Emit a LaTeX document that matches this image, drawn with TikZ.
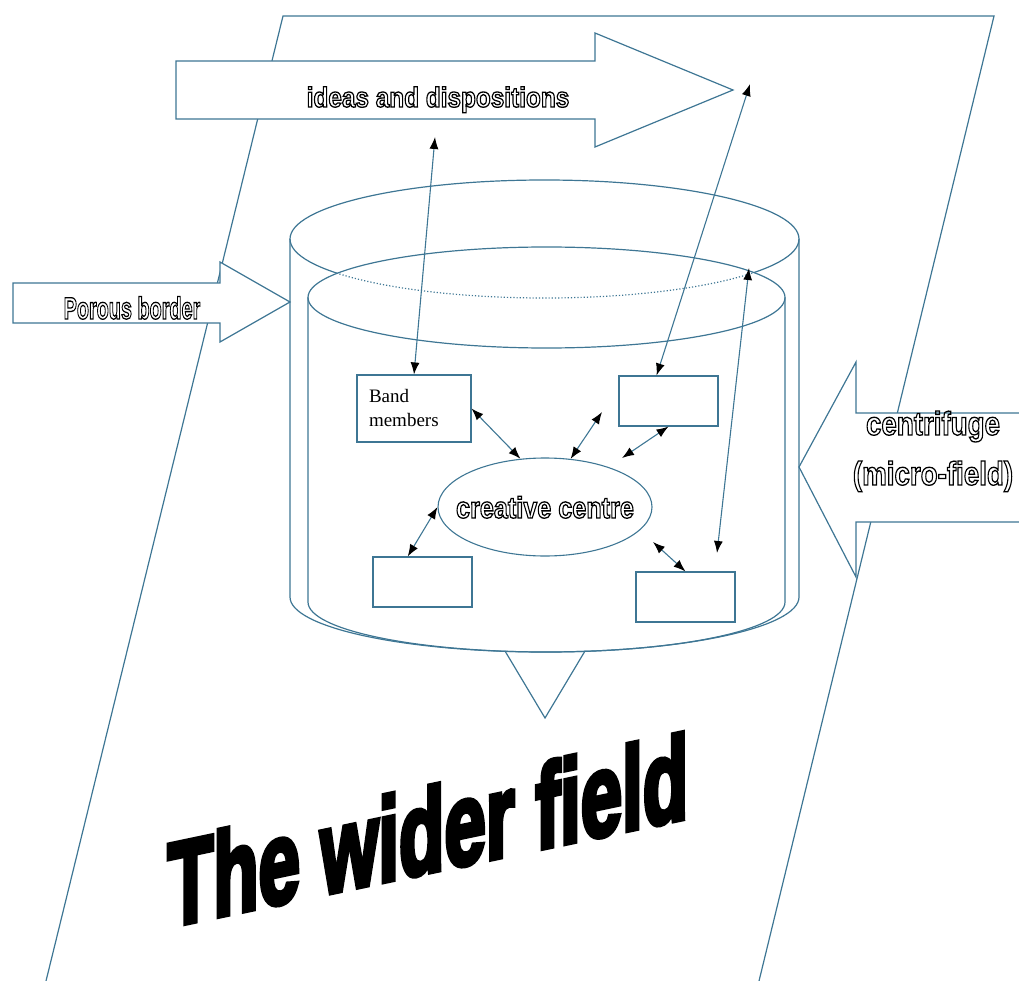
\documentclass[tikz,border=0pt]{standalone}
\usepackage{fontspec}
\setmainfont{Liberation Serif}
\setsansfont{Liberation Sans}
\newfontfamily\titlefont{Liberation Sans}[BoldFeatures={FakeBold=5}]
\usepackage{tikz}
\usetikzlibrary{arrows.meta, shapes.geometric}
\definecolor{linecol}{RGB}{62,118,148}
\newcommand{\hollow}[1]{\special{pdf:literal direct 1 Tr 1.3 w}#1\special{pdf:literal direct 0 Tr}}

\tikzset{
  linktip/.tip={Latex[color=black, length=12pt, width=9pt]},
  fieldline/.style={draw=linecol, line width=1.2pt},
  broadarrow/.style={draw=linecol, fill=white, line width=1.2pt},
  memberbox/.style={draw=linecol, line width=1.1pt, minimum width=99, minimum height=50, inner sep=0},
  link/.style={draw=linecol, line width=1.1pt, linktip-linktip},
  hollowlabel/.style={inner sep=0, anchor=base},
}

\begin{document}
\begin{tikzpicture}[x=1pt, y=-1pt]
  \useasboundingbox (0,0) rectangle (1019,981);

  % the wider field
  \draw[fieldline] (46,981) -- (283,16) -- (994,16) -- (759,981);

  % cylinder
  \draw[fieldline] (290,239) -- (290,597) arc[start angle=180, end angle=0, x radius=254.5, y radius=55] -- (799,239);
  \draw[fieldline] (308,297.5) -- (308,602) arc[start angle=180, end angle=0, x radius=238.5, y radius=50] -- (785,297.5);
  \draw[fieldline] (546.5,297.5) ellipse [x radius=238.5, y radius=50.5];
  \begin{scope}[even odd rule]
    \clip (0,0) rectangle (1019,981) (546.5,297.5) ellipse [x radius=238.5, y radius=50.5];
    \draw[fieldline] (544.5,239) ellipse [x radius=254.5, y radius=59];
  \end{scope}
  \begin{scope}
    \clip (546.5,297.5) ellipse [x radius=238.5, y radius=50.5];
    \draw[fieldline, dotted] (544.5,239) ellipse [x radius=254.5, y radius=59];
  \end{scope}
  \draw[fieldline] (505,651) -- (545,718) -- (585,651);

  % broad arrows
  \draw[broadarrow] (176,61) -- (595,61) -- (595,33) -- (733,90) -- (595,147) -- (595,119) -- (176,119) -- cycle;
  \draw[broadarrow] (13,283) -- (220,283) -- (220,262) -- (290,302) -- (220,342) -- (220,323) -- (13,323) -- cycle;
  \draw[broadarrow] (1019,413) -- (856,413) -- (856,362) -- (799,467) -- (856,577) -- (856,522) -- (1019,522);

  \node[hollowlabel, font=\sffamily\bfseries\fontsize{28}{28}\selectfont] (ideas) at (438,107) {\scalebox{0.87}[1]{\hollow{ideas and dispositions}}};
  \node[hollowlabel, font=\sffamily\bfseries\fontsize{31}{31}\selectfont] (porous) at (132,319) {\scalebox{0.64}[1]{\hollow{Porous border}}};
  \node[hollowlabel, font=\sffamily\bfseries\fontsize{33}{33}\selectfont] (centrifuge) at (933,435) {\scalebox{0.84}[1]{\hollow{centrifuge}}};
  \node[hollowlabel, font=\sffamily\bfseries\fontsize{33}{33}\selectfont] (microfield) at (933,485) {\scalebox{0.84}[1]{\hollow{(micro-field)}}};

  % members and centre
  \node[memberbox, minimum width=114, minimum height=67, text width=90, align=left, font=\fontsize{19}{24}\selectfont] (band) at (414,408.5) {Band\\members};
  \node[memberbox] (tr) at (668.5,401) {};
  \node[memberbox] (bl) at (422.5,582) {};
  \node[memberbox] (br) at (685.5,597) {};
  \node[draw=linecol, line width=1.1pt, ellipse, minimum width=214, minimum height=98, inner sep=0] (centre) at (545,507) {};
  \node[hollowlabel, font=\sffamily\bfseries\fontsize{30}{30}\selectfont] (centretext) at (545,518) {\scalebox{0.84}[1]{\hollow{creative centre}}};

  \coordinate (ideasfoot) at (435,137);
  \coordinate (ideastip) at (750,84);
  \coordinate (rimpoint) at (749,268);
  \coordinate (brtop) at (717,553);
  \coordinate (trgap) at (602,412);
  \coordinate (trside) at (622,458);
  \coordinate (brgap) at (653,542);

  \draw[link] (ideasfoot) -- (band.north);
  \draw[link] (ideastip) -- (tr.115);
  \draw[link] (rimpoint) -- (brtop);
  \draw[link] (band.east) -- (centre.117);
  \draw[link] (trgap) -- (centre.62);
  \draw[link] (tr.south) -- (trside);
  \draw[link] (centre.west) -- (bl.120);
  \draw[link] (brgap) -- (br.north);

  % title
  \begin{scope}[shift={(428,872)}, yslant=0.21]
    \node[transform shape, anchor=base, inner sep=0, font=\titlefont\bfseries\fontsize{118}{118}\selectfont] (wider) at (0,0) {\scalebox{0.63}[1]{The wider field}};
  \end{scope}
\end{tikzpicture}
\end{document}
